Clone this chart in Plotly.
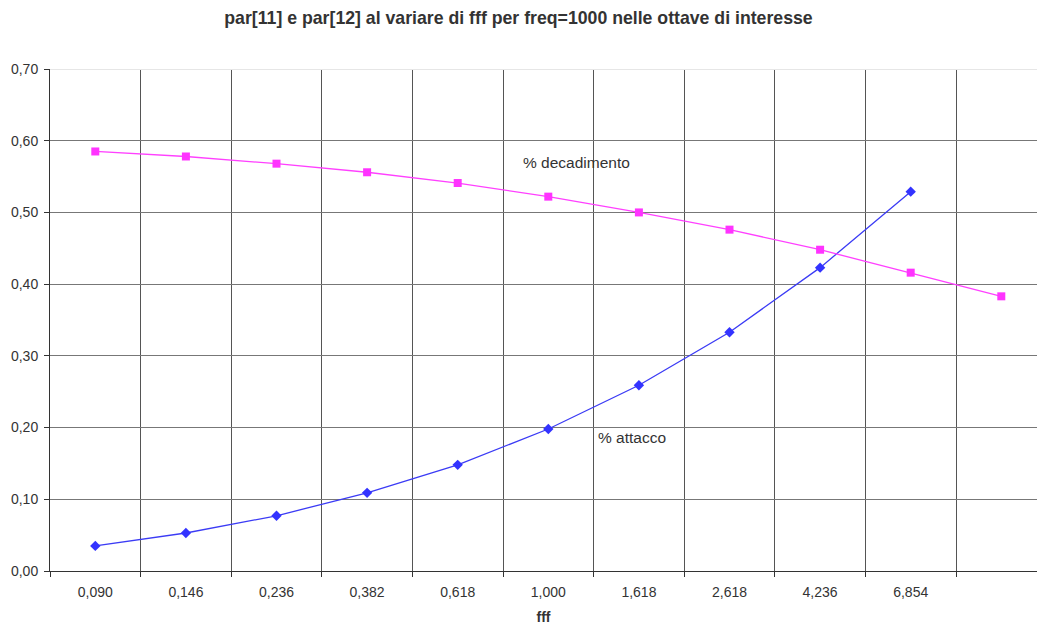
import plotly.graph_objects as go

categories = ["0,090", "0,146", "0,236", "0,382", "0,618", "1,000", "1,618", "2,618", "4,236", "6,854", " "]
attacco = [0.035, 0.053, 0.077, 0.109, 0.148, 0.198, 0.259, 0.333, 0.423, 0.529]
decadimento = [0.585, 0.578, 0.568, 0.556, 0.541, 0.522, 0.500, 0.476, 0.448, 0.416, 0.383]
y_ticks = [0.0, 0.1, 0.2, 0.3, 0.4, 0.5, 0.6, 0.7]

fig = go.Figure()
fig.add_trace(go.Scatter(
    x=categories[:len(attacco)], y=attacco, mode="lines+markers", name="% attacco",
    line=dict(color="#3b3bf5", width=1.3),
    marker=dict(symbol="diamond", size=8, color="#3333ff"),
))
fig.add_trace(go.Scatter(
    x=categories[:len(decadimento)], y=decadimento, mode="lines+markers", name="% decadimento",
    line=dict(color="#ff40ff", width=1.3),
    marker=dict(symbol="square", size=8, color="#ff33ff"),
))

font_fam = "Liberation Sans, Arial, sans-serif"
fig.update_layout(
    width=1037, height=625,
    margin=dict(l=50, r=0, t=69, b=54),
    paper_bgcolor="white", plot_bgcolor="white",
    showlegend=False,
    separators=", ",
    font=dict(family=font_fam, size=14, color="#333333"),
    title=dict(text="<b>par[11] e par[12] al variare di fff per freq=1000 nelle ottave di interesse</b>",
               x=0.5, xanchor="center", y=0.971, yanchor="middle",
               font=dict(family=font_fam, size=17.7, color="#333333")),
    annotations=[
        dict(x=5, y=0.57, xref="x", yref="y", text="% decadimento", showarrow=False,
             xanchor="left", yanchor="middle", xshift=-27, font=dict(size=15.5, color="#333333")),
        dict(x=5, y=0.1855, xref="x", yref="y", text="% attacco", showarrow=False,
             xanchor="left", yanchor="middle", xshift=48, font=dict(size=15.5, color="#333333")),
    ],
    shapes=[
        dict(type="line", xref="paper", yref="y", x0=0, x1=1, y0=0.7, y1=0.7,
             line=dict(color="#e6e6e6", width=2), layer="above"),
    ],
)
fig.update_xaxes(
    type="category", categoryorder="array", categoryarray=categories,
    range=[-0.5, 10.394],
    tickson="boundaries", ticks="outside", ticklen=5, tickcolor="#333333",
    showgrid=True, gridcolor="#555555", gridwidth=1,
    showline=True, linecolor="#333333", linewidth=1,
    tickfont=dict(size=14, color="#333333"), ticklabelstandoff=8,
    title=dict(text="<b>fff</b>", font=dict(size=14, color="#333333"), standoff=14),
    zeroline=False,
)
fig.update_yaxes(
    range=[0, 0.7], tickvals=y_ticks, tickformat=".2f",
    ticks="outside", ticklen=5, tickcolor="#333333",
    showgrid=True, gridcolor="#777777", gridwidth=1,
    showline=True, linecolor="#333333", linewidth=1,
    tickfont=dict(size=14, color="#333333"), ticklabelstandoff=3,
    zeroline=False,
)
fig.write_html("out.html")
